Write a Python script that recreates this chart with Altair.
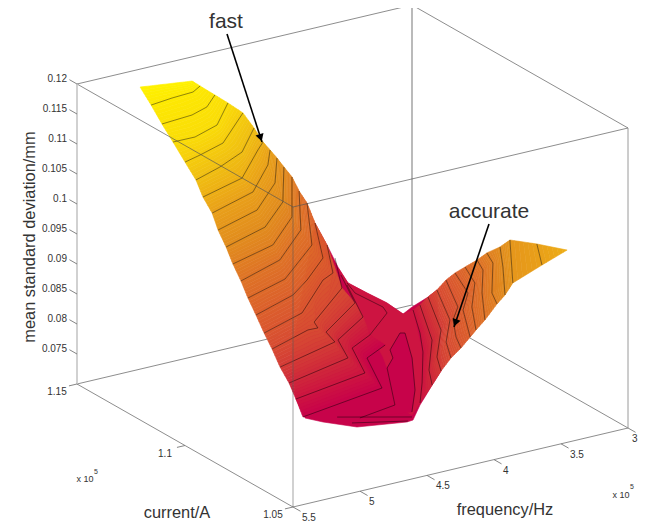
import altair as alt
import pandas as pd

# --- Surface data: frequency in 100 Hz, current in 10 A, std deviation in 1e-5 mm ---
LEFT = {
11800: [(5084,11466),(4754,11430)],
11500: [(5026,11451),(4850,11463),(4684,11469),(4591,11494)],
11275: [(5019,11405),(4777,11416),(4624,11442),(4471,11500)],
11050: [(5003,11364),(4840,11363),(4613,11402),(4351,11514)],
10825: [(5000,11310),(4856,11330),(4623,11368),(4239,11514)],
10600: [(4983,11270),(4736,11312),(4481,11368),(4195,11490)],
10375: [(4979,11240),(4597,11296),(4253,11436),(4152,11475)],
10150: [(4954,11213),(4543,11279),(4214,11414),(4064,11497)],
9925: [(4955,11185),(4564,11247),(4219,11378),(3977,11519)],
9700: [(4945,11154),(4554,11216),(4228,11336),(3898,11536)],
9475: [(4941,11125),(4554,11180),(4194,11315),(3823,11545)],
9250: [(4931,11094),(4531,11162),(4142,11306),(3791,11532)],
9025: [(4927,11064),(4555,11123),(4098,11282),(3735,11530)],
8800: [(4917,11033),(4536,11098),(4323,11165),(4035,11270),(3753,11482)],
8575: [(4916,10996),(4530,11060),(4114,11221),(3996,11248),(3768,11417)],
8350: [(4897,10971),(4531,11032),(4460,11030),(4425,11069),(3963,11227),(3721,11409)],
8125: [(4897,10934),(4375,11004),(4330,11073),(3908,11201),(3722,11381)],
7900: [(4872,10908),(4329,10972),(4215,11089),(3870,11187),(3658,11393)],
7675: [(4859,10884),(4254,10940),(4090,11101),(3875,11152),(3581,11255),(3547,11295),(3565,11413),(3514,11482)],
7450: [(4863,10849),(4178,10908),(3979,11101),(3763,11151)],
}
LEFT_FILL_POINTS = {8350: 5, 8125: 4, 7900: 4, 7675: 4}
RIGHT = {
10350: [(3535,10450),(3535,10450)],
10150: [(3527,10595),(3695,10467)],
9925: [(3507,10732),(3890,10481)],
9700: [(3499,10783),(3669,10664),(3918,10500)],
9475: [(3499,10844),(3560,10778),(3843,10607),(3918,10537)],
9250: [(3491,10894),(3552,10829),(3770,10698),(4005,10539)],
9025: [(3494,10948),(3590,10843),(3828,10709),(4020,10571)],
8800: [(3477,11005),(3594,10872),(3778,10781),(3991,10616)],
8575: [(3465,11054),(3652,10883),(3798,10815),(3940,10713),(4016,10643)],
8350: [(3480,11087),(3689,10897),(3914,10775),(4036,10677)],
8125: [(3467,11136),(3704,10929),(3976,10779),(4084,10693)],
7900: [(3458,11179),(3719,10961),(4013,10793),(4136,10702)],
7675: [(3416,11237),(3593,11095),(3753,10982),(4045,10805),(4241,10693)],
}
CORE = [(4572,10766),(4267,10793),(3966,11016),(3842,11066),(3783,11116),(3573,11200),(3547,11193),(3741,11040),(4022,10852),(4242,10730)]
CORE_LEVEL = 7450
RIM_CONTOURS = [[(4684,10802),(4288,10701)], [(4660,10748),(4346,10683)]]
BASE = [(3753,11482,8800),(3656,11482,8350),(3664,11431,8125),(3634,11403,7900),(3502,11397,7675),(3489,11313,7675),(3381,11305,7450),(3269,11333,7450),(3467,11136,8125),(3480,11087,8350),(4084,10693,8125),(4136,10702,7900),(4159,10721,7675),(4135,10759,7450),(4311,10682,7450),(4361,10679,7450),(4671,10718,7450),(4804,10793,7450),(4862,10840,7450),(4859,10884,7675),(4801,10938,8350)]
WEDGE = [(3673,11425,8125),(3634,11403,7900),(3502,11397,7675),(3489,11313,7675),(3381,11305,7450),(3416,11237,7675),(3740,10995,7675),(4045,10805,7675),(4241,10693,7675),(4270,10712,7450),(4267,10793,7450),(3966,11016,7450),(3885,11085,7450),(3742,11280,7675)]

FREQ_TICKS = [5500, 5000, 4500, 4000, 3500]
FREQ_LABELS = ["5.5", "5", "4.5", "4", "3.5"]
FREQ_LAST_TICK = 3000
FREQ_LAST_LABEL = "3"
CURR_TICKS = [11500, 11000, 10500]
CURR_LABELS = ["1.15", "1.1", "1.05"]
STD_TICKS = [12000, 11500, 11000, 10500, 10000, 9500, 9000, 8500, 8000, 7500]
STD_LABELS = ["0.12", "0.115", "0.11", "0.105", "0.1", "0.095", "0.09", "0.085", "0.08", "0.075"]

COLOR_DOMAIN = [7450, 7675, 7900, 8350, 9250, 9700, 10150, 10600, 11050, 11800]
COLOR_RANGE = ["#c7034a", "#cd1441", "#cf283a", "#d74b32", "#de7326", "#e18c1e", "#e9a019", "#f0be12", "#fadc08", "#fff200"]

W, H = 632, 515


def project(f, c, z):
    """Parallel projection of (frequency, current, std) to plot pixels."""
    u = (5500 - f) / 2500
    v = (c - 10500) / 1000
    w = (z - 7000) / 5000
    return (285 + 335 * u - 216 * v, 499 - 79 * u - 123 * v - 300 * w)


def resample(pts, n):
    d = [0.0]
    for a, b in zip(pts, pts[1:]):
        d.append(d[-1] + ((a[0] - b[0]) ** 2 + (a[1] - b[1]) ** 2) ** 0.5)
    tot = d[-1] or 1.0
    out, j = [], 0
    for i in range(n):
        t = tot * i / (n - 1)
        while j < len(pts) - 2 and d[j + 1] < t:
            j += 1
        span = (d[j + 1] - d[j]) or 1.0
        s = (t - d[j]) / span
        out.append((pts[j][0] + s * (pts[j + 1][0] - pts[j][0]), pts[j][1] + s * (pts[j + 1][1] - pts[j][1])))
    return out


def poly(points, level):
    ring = [[round(x, 2), round(y, 2)] for x, y in points]
    ring.append(ring[0])
    return {"type": "Feature", "properties": {"z": level}, "geometry": {"type": "Polygon", "coordinates": [ring]}}


def strips(stations, N=28, M=6):
    feats = []
    for (za, pa), (zb, pb) in zip(stations, stations[1:]):
        ra, rb = resample(pa, N), resample(pb, N)
        for m in range(M):
            s0, s1 = m / M, (m + 1) / M
            a = [(p[0] + s0 * (q[0] - p[0]), p[1] + s0 * (q[1] - p[1])) for p, q in zip(ra, rb)]
            b = [(p[0] + s1 * (q[0] - p[0]), p[1] + s1 * (q[1] - p[1])) for p, q in zip(ra, rb)]
            feats.append(poly(a + b[::-1], za + (s0 + s1) / 2 * (zb - za)))
    return feats


features = [poly([project(*p) for p in BASE], CORE_LEVEL), poly([project(*p) for p in WEDGE], 7675)]
left_st = [(z, [project(f, c, z) for f, c in pts[: LEFT_FILL_POINTS.get(z, len(pts))]]) for z, pts in LEFT.items()]
right_st = [(z, [project(f, c, z) for f, c in pts]) for z, pts in RIGHT.items()]
features += strips(left_st) + strips(right_st)
features.append(poly([project(f, c, CORE_LEVEL) for f, c in CORE], CORE_LEVEL))

color_scale = alt.Scale(domain=COLOR_DOMAIN, range=COLOR_RANGE, clamp=True)
surface = (
    alt.Chart(alt.InlineData(values=features))
    .mark_geoshape(strokeWidth=0.6)
    .encode(
        fill=alt.Fill("properties.z:Q", scale=color_scale, legend=None),
        stroke=alt.Stroke("properties.z:Q", scale=color_scale, legend=None),
    )
    .project(type="identity", scale=1, translate=[0, 0])
)

X = alt.X("x:Q", scale=alt.Scale(domain=[0, W], nice=False, zero=False), axis=None)
Y = alt.Y("y:Q", scale=alt.Scale(domain=[H, 0], nice=False, zero=False), axis=None)


def lines(segments, **style):
    rows = []
    for k, seg in enumerate(segments):
        for i, (x, y) in enumerate(seg):
            rows.append({"x": x, "y": y, "k": k, "i": i})
    return (
        alt.Chart(pd.DataFrame(rows))
        .mark_line(interpolate="linear", **style)
        .encode(x=X, y=Y, detail="k:N", order="i:Q")
    )


# contour lines
contours = []
for z, pts in LEFT.items():
    if z != 11800:
        contours.append([project(f, c, z) for f, c in pts])
for z, pts in RIGHT.items():
    if z != 10350:
        contours.append([project(f, c, z) for f, c in pts])
contours.append([project(f, c, CORE_LEVEL) for f, c in CORE])
for pts in RIM_CONTOURS:
    contours.append([project(f, c, CORE_LEVEL) for f, c in pts])

# box
F0, F1 = 5500, 3000
C0, C1 = 10500, 11500
Z0, Z1 = 7000, 12000


def edge(a, b):
    return [project(*a), project(*b)]


back = lines(
    [
        edge((F0, C1, Z0), (F1, C1, Z0)),
        edge((F1, C1, Z0), (F1, C0, Z0)),
        edge((F0, C1, Z1), (F1, C1, Z1)),
        edge((F1, C1, Z1), (F1, C0, Z1)),
    ],
    color="#808080",
    strokeWidth=0.9,
)
back_v = lines([edge((F1, C1, Z0), (F1, C1, Z1))], color="#8c8c8c", strokeWidth=1.2)
front = lines(
    [
        edge((F0, C1, Z1), (F0, C0, Z1)),
        edge((F0, C0, Z1), (F1, C0, Z1)),
        edge((F0, C1, Z0), (F0, C0, Z0)),
        edge((F0, C0, Z0), (F1, C0, Z0)),
    ],
    color="#555555",
    strokeWidth=0.9,
    opacity=0.75,
)
right_v = lines([edge((F1, C0, Z0), (F1, C0, Z1))], color="#9a9a9a", strokeWidth=1.0)
left_v = lines([edge((F0, C1, Z0), (F0, C1, Z1))], color="#c6c6c6", strokeWidth=1.6)
front_v = lines([edge((F0, C0, Z0), (F0, C0, Z1))], color="#555555", strokeWidth=1.3, opacity=0.42)
contour_layer = lines(contours, color="#000000", strokeWidth=0.8, opacity=0.55)

# ticks
ticks = (
    [edge((F0, C1, z), (F0, C1 + 35, z)) for z in STD_TICKS]
    + [edge((F0, c, Z0), (F0 + 60, c, Z0)) for c in CURR_TICKS]
    + [edge((f, C0, Z0), (f, C0 - 35, Z0)) for f in FREQ_TICKS + [FREQ_LAST_TICK]]
)
tick_layer = lines(ticks, color="#777777", strokeWidth=0.9)


def labels(pos, texts, size=10, **style):
    df = pd.DataFrame({"x": [p[0] for p in pos], "y": [p[1] for p in pos], "t": texts})
    return (
        alt.Chart(df)
        .mark_text(font="Liberation Sans", fontSize=size, color="#333333", **style)
        .encode(x=X, y=Y, text="t:N")
    )


lab_std = labels([project(F0, C1, z) for z in STD_TICKS], STD_LABELS, align="right", baseline="middle", dx=-10, dy=-5)
lab_cur = labels([project(F0, c, Z0) for c in CURR_TICKS], CURR_LABELS, align="center", baseline="middle", dx=-20, dy=8)
lab_frq = labels([project(f, C0, Z0) for f in FREQ_TICKS], FREQ_LABELS, align="left", baseline="middle", dx=9, dy=11)
lab_frq_last = labels([project(FREQ_LAST_TICK, C0, Z0)], [FREQ_LAST_LABEL], align="left", baseline="middle", dx=4, dy=11)

# annotations (plot pixels)
TITLE_POS = {"current/A": (169, 505), "frequency/Hz": (497, 502)}
t_titles = labels(list(TITLE_POS.values()), list(TITLE_POS.keys()), size=16.4, align="center", baseline="middle")
t_y = labels([(22, 229)], ["mean standard deviation/mm"], size=16.4, align="center", baseline="middle", angle=270)
t_note = labels([(218, 14), (481, 204)], ["fast", "accurate"], size=21, align="center", baseline="middle")
t_mult = labels([(77, 471), (613, 487)], ["x 10", "x 10"], size=9, align="center", baseline="middle")
t_exp = labels([(88, 464), (624, 479)], ["5", "5"], size=7, align="center", baseline="middle")

ARROWS = [((219, 26), (254, 134), 162), ((481, 216), (446, 319), 199)]
shafts = lines([[a[0], a[1]] for a in ARROWS], color="#000000", strokeWidth=1.6)
heads = []
for start, tip, ang in ARROWS:
    dx, dy = tip[0] - start[0], tip[1] - start[1]
    L = (dx * dx + dy * dy) ** 0.5
    heads.append(
        alt.Chart(pd.DataFrame({"x": [tip[0] - 4.5 * dx / L], "y": [tip[1] - 4.5 * dy / L]}))
        .mark_point(shape="triangle-up", filled=True, color="#000000", opacity=1, size=70, angle=ang)
        .encode(x=X, y=Y)
    )

chart = (
    alt.layer(
        back, back_v, surface, contour_layer, front, front_v, left_v, right_v, tick_layer,
        lab_std, lab_cur, lab_frq, lab_frq_last, t_titles, t_y, t_note, t_mult, t_exp, shafts, *heads,
    )
    .properties(width=W, height=H, padding=0, autosize=alt.AutoSizeParams(type="none"), background="white")
    .configure_view(strokeWidth=0)
)
chart.save("out.html", embed_options={"renderer": "svg", "actions": False})
